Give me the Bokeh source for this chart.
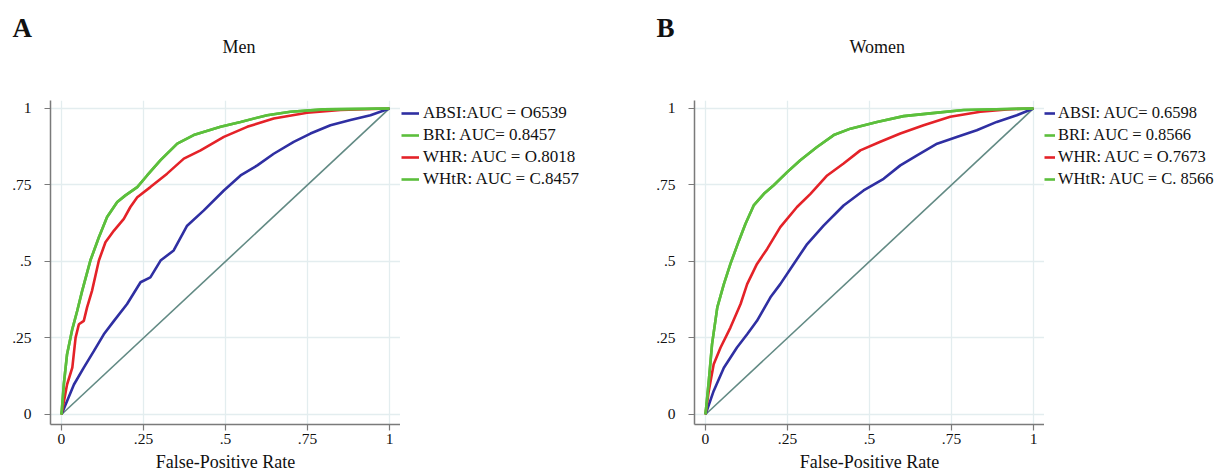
from bokeh.plotting import figure
from bokeh.layouts import row
from bokeh.models import Legend, LegendItem, Title, FixedTicker, Range1d
from bokeh.embed import file_html
from bokeh.resources import INLINE

TICKS = [0, 0.25, 0.5, 0.75, 1]
TICK_LABELS = ["0", ".25", ".5", ".75", "1"]
DIAG_X = [0, 1]
DIAG_Y = [0, 1]
X_LABEL = "False-Positive Rate"

# ---- Men (A) ----
men_absi_x = [0, 0.038, 0.068, 0.099, 0.129, 0.16, 0.2, 0.241, 0.271, 0.302, 0.342, 0.383, 0.434, 0.495, 0.546, 0.597, 0.647, 0.708, 0.759, 0.82, 0.881, 0.942, 1.0]
men_absi_y = [0, 0.098, 0.153, 0.208, 0.262, 0.306, 0.361, 0.432, 0.448, 0.503, 0.536, 0.617, 0.667, 0.732, 0.781, 0.814, 0.852, 0.891, 0.918, 0.945, 0.962, 0.978, 1.0]
men_bri_x = [0, 0.007, 0.017, 0.033, 0.048, 0.063, 0.088, 0.114, 0.139, 0.17, 0.195, 0.231, 0.261, 0.302, 0.353, 0.403, 0.485, 0.546, 0.627, 0.698, 0.8, 1.0]
men_bri_y = [0, 0.098, 0.197, 0.279, 0.339, 0.404, 0.503, 0.579, 0.645, 0.694, 0.716, 0.743, 0.781, 0.831, 0.885, 0.913, 0.94, 0.956, 0.978, 0.989, 0.997, 1.0]
men_whr_x = [0, 0.017, 0.033, 0.043, 0.053, 0.068, 0.078, 0.093, 0.114, 0.134, 0.16, 0.19, 0.21, 0.231, 0.271, 0.322, 0.373, 0.424, 0.495, 0.566, 0.647, 0.749, 0.851, 1.0]
men_whr_y = [0, 0.098, 0.153, 0.251, 0.295, 0.306, 0.35, 0.404, 0.503, 0.563, 0.601, 0.639, 0.678, 0.71, 0.743, 0.787, 0.836, 0.863, 0.907, 0.94, 0.967, 0.986, 0.995, 1.0]
men_whtr_x = men_bri_x   # identical curve (same AUC)
men_whtr_y = men_bri_y
men_labels = ["ABSI:AUC = O6539", "BRI: AUC= 0.8457", "WHR: AUC = O.8018", "WHtR: AUC = C.8457"]

# ---- Women (B) ----
women_absi_x = [0, 0.025, 0.056, 0.096, 0.127, 0.157, 0.198, 0.228, 0.269, 0.31, 0.36, 0.421, 0.482, 0.543, 0.594, 0.645, 0.706, 0.766, 0.827, 0.888, 0.949, 1.0]
women_absi_y = [0, 0.077, 0.153, 0.219, 0.262, 0.306, 0.383, 0.426, 0.492, 0.557, 0.617, 0.683, 0.732, 0.77, 0.814, 0.847, 0.885, 0.907, 0.929, 0.956, 0.978, 1.0]
women_bri_x = [0, 0.01, 0.02, 0.036, 0.056, 0.076, 0.102, 0.122, 0.147, 0.178, 0.208, 0.249, 0.289, 0.34, 0.391, 0.442, 0.523, 0.604, 0.685, 0.787, 1.0]
women_bri_y = [0, 0.109, 0.23, 0.35, 0.426, 0.492, 0.568, 0.623, 0.683, 0.721, 0.749, 0.792, 0.831, 0.874, 0.913, 0.934, 0.956, 0.975, 0.984, 0.995, 1.0]
women_whr_x = [0, 0.01, 0.025, 0.046, 0.076, 0.107, 0.127, 0.157, 0.188, 0.228, 0.279, 0.32, 0.371, 0.421, 0.472, 0.533, 0.594, 0.665, 0.746, 0.838, 0.919, 1.0]
women_whr_y = [0, 0.077, 0.164, 0.219, 0.284, 0.361, 0.426, 0.492, 0.541, 0.612, 0.678, 0.721, 0.781, 0.82, 0.863, 0.891, 0.918, 0.945, 0.973, 0.989, 0.997, 1.0]
women_whtr_x = women_bri_x
women_whtr_y = women_bri_y
women_labels = ["ABSI: AUC= 0.6598", "BRI: AUC = 0.8566", "WHR: AUC = O.7673", "WHtR: AUC = C. 8566"]

BLUE = "#2f2fa2"
GREEN = "#5cbf3c"
RED = "#e42228"
DIAG = "#628a84"
AXIS = "#7a7a7a"
GRID = "#e3edef"
FONT = "Liberation Serif"
COLORS = [BLUE, GREEN, RED, GREEN]
HEIGHT = 475


def make_plot(letter, title, title_offset, curves):
    p = figure(width=400, height=HEIGHT, output_backend="svg", toolbar_location=None,
               title=None, title_location=None,
               x_range=Range1d(-0.0335, 1.0335), y_range=Range1d(-0.0327, 1.026),
               min_border_left=50, min_border_right=0,
               min_border_top=100, min_border_bottom=51)
    p.outline_line_color = None
    p.background_fill_color = "white"
    p.border_fill_color = "white"
    for ax in (p.xaxis, p.yaxis):
        ax.ticker = FixedTicker(ticks=TICKS)
        ax.major_label_overrides = dict(zip(TICKS, TICK_LABELS))
        ax.axis_line_color = AXIS
        ax.axis_line_width = 1.5
        ax.major_tick_line_color = AXIS
        ax.major_tick_line_width = 1.2
        ax.major_tick_out = 6
        ax.major_tick_in = 0
        ax.minor_tick_line_color = None
        ax.major_label_text_font = FONT
        ax.major_label_text_font_size = "15.5px"
        ax.major_label_text_color = "#111111"
    p.xaxis.major_label_standoff = 3
    p.yaxis.major_label_standoff = 13
    p.xaxis.axis_label = X_LABEL
    p.xaxis.axis_label_standoff = 5
    p.xaxis.axis_label_text_font = FONT
    p.xaxis.axis_label_text_font_size = "18px"
    p.xaxis.axis_label_text_font_style = "normal"
    p.xaxis.axis_label_text_color = "#111111"
    p.xgrid.ticker = FixedTicker(ticks=TICKS)
    p.ygrid.ticker = FixedTicker(ticks=TICKS)
    for g in (p.xgrid, p.ygrid):
        g.grid_line_color = GRID
        g.grid_line_width = 1.3

    p.line(DIAG_X, DIAG_Y, line_color=DIAG, line_width=1.6)
    for i in [0, 2, 1, 3]:
        xs, ys = curves[i]
        p.line(xs, ys, line_color=COLORS[i], line_width=2.6)

    # titles stack upward from the frame: spacer, subtitle, panel letter
    p.add_layout(Title(text=" ", standoff=41, text_font=FONT, text_font_size="1px"), "above")
    p.add_layout(Title(text=title, align="left", offset=title_offset, standoff=0,
                       text_font=FONT, text_font_size="18px", text_font_style="normal",
                       text_color="#111111"), "above")
    p.add_layout(Title(text=letter, align="left", offset=-38, standoff=-17,
                       text_font=FONT, text_font_size="27px", text_font_style="bold",
                       text_color="#111111"), "above")
    return p


def make_legend(labels, curves, width, font_size, glyph_w, standoff, x0):
    # the key lines use the curves' own data, kept out of this panel's view
    q = figure(width=width, height=HEIGHT, output_backend="svg", toolbar_location=None,
               title=None, title_location=None, x_axis_type=None, y_axis_type=None,
               x_range=Range1d(10, 11), y_range=Range1d(10, 11),
               min_border_left=0, min_border_right=0, min_border_top=100, min_border_bottom=51)
    q.outline_line_color = None
    q.background_fill_color = "white"
    q.border_fill_color = "white"
    keys = [q.line(curves[i][0], curves[i][1], line_color=COLORS[i], line_width=2.6)
            for i in range(4)]
    items = [LegendItem(label=labels[i], renderers=[keys[i]]) for i in range(4)]
    leg = Legend(items=items, location=(x0, 235), margin=0, padding=0,
                 spacing=2, glyph_width=glyph_w, glyph_height=20, label_height=20,
                 label_standoff=standoff, label_text_font=FONT,
                 label_text_font_size=font_size, label_text_color="#111111",
                 border_line_color=None, background_fill_alpha=0)
    q.add_layout(leg)
    return q


men_curves = [(men_absi_x, men_absi_y), (men_bri_x, men_bri_y),
              (men_whr_x, men_whr_y), (men_whtr_x, men_whtr_y)]
women_curves = [(women_absi_x, women_absi_y), (women_bri_x, women_bri_y),
                (women_whr_x, women_whr_y), (women_whtr_x, women_whtr_y)]

pA = make_plot("A", "Men", 172, men_curves)
lA = make_legend(men_labels, men_curves, 244, "17px", 18, 4, 1)
pB = make_plot("B", "Women", 155, women_curves)
lB = make_legend(women_labels, women_curves, 175, "16.5px", 11, 3, 0)

layout = row(pA, lA, pB, lB, spacing=0)
open("out.html", "w").write(file_html(layout, INLINE))
